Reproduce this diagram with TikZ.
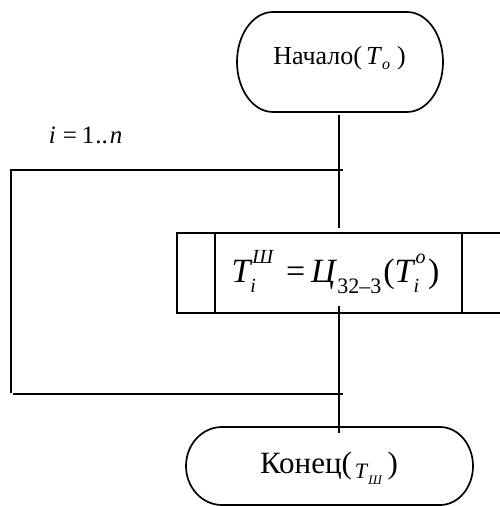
\documentclass[tikz,border=0pt]{standalone}
\usepackage{fontspec}
\setmainfont{Liberation Serif}
\newcommand\fsz[1]{\fontsize{#1}{#1}\selectfont}
\begin{document}
\begin{tikzpicture}[x=1pt,y=-1pt,line width=1.7pt]
\tikzset{lbl/.style={inner sep=0pt,draw=none}}
\useasboundingbox (0,0) rectangle (499,506);
% start terminal
\draw (273,12) -- (407,12) arc[start angle=-90,end angle=90,x radius=36,y radius=50]
      -- (273,112) arc[start angle=90,end angle=270,x radius=36,y radius=50] -- cycle;
\node[lbl,anchor=base] (start) at (339.5,64) {\fsz{26}Начало(\hspace{4pt}\textit{T}\raisebox{-5pt}{\fsz{16}\textit{o}}\hspace{7pt})};
% loop label
\node[lbl,anchor=base west] (loop) at (48,143) {\fsz{25}\textit{i}\hspace{7pt}=\hspace{5pt}1\hspace{1pt}..\hspace{2pt}\textit{n}};
% process box
\draw (177,233) rectangle (505,313);
\draw (215,233) -- (215,313);
\draw (462,233) -- (462,313);
\node[lbl,anchor=base] (proc) at (335.5,282) {\fsz{34}\textit{T}\makebox[0pt][l]{\raisebox{19pt}{\fsz{20}\textit{Ш}}}\hspace{-2pt}\raisebox{-10pt}{\fsz{20}\textit{i}}\hspace{30pt}=\hspace{6pt}\textit{Ц}\raisebox{-11pt}{\fsz{22}32\textendash 3}\hspace{2pt}(\textit{T}\makebox[0pt][l]{\raisebox{19pt}{\fsz{20}\textit{o}}}\hspace{-2pt}\raisebox{-10pt}{\fsz{20}\textit{i}}\hspace{9pt})};
% end terminal
\draw (222,427) -- (440,427) arc[start angle=-90,end angle=90,x radius=33,y radius=39]
      -- (222,505) arc[start angle=90,end angle=270,x radius=36,y radius=39] -- cycle;
\node[lbl,anchor=base] (end) at (329,473) {\fsz{31}Конец(\hspace{3pt}\raisebox{-5pt}{\fsz{22}\textit{T}}\raisebox{-11pt}{\fsz{13}\textit{Ш}}\hspace{5pt})};
% connectors
\coordinate (a1) at (339,115);
\coordinate (a2) at (339,228);
\coordinate (b1) at (339,306);
\coordinate (b2) at (339,433);
\coordinate (lt) at (11,170);
\coordinate (ltr) at (343,170);
\coordinate (lb) at (11,393);
\coordinate (lbl) at (13,394);
\coordinate (lbr) at (343,394);
\draw (a1) -- (a2);
\draw (b1) -- (b2);
\draw (ltr) -- (lt) -- (lb);
\draw (lbl) -- (lbr);
\end{tikzpicture}
\end{document}
